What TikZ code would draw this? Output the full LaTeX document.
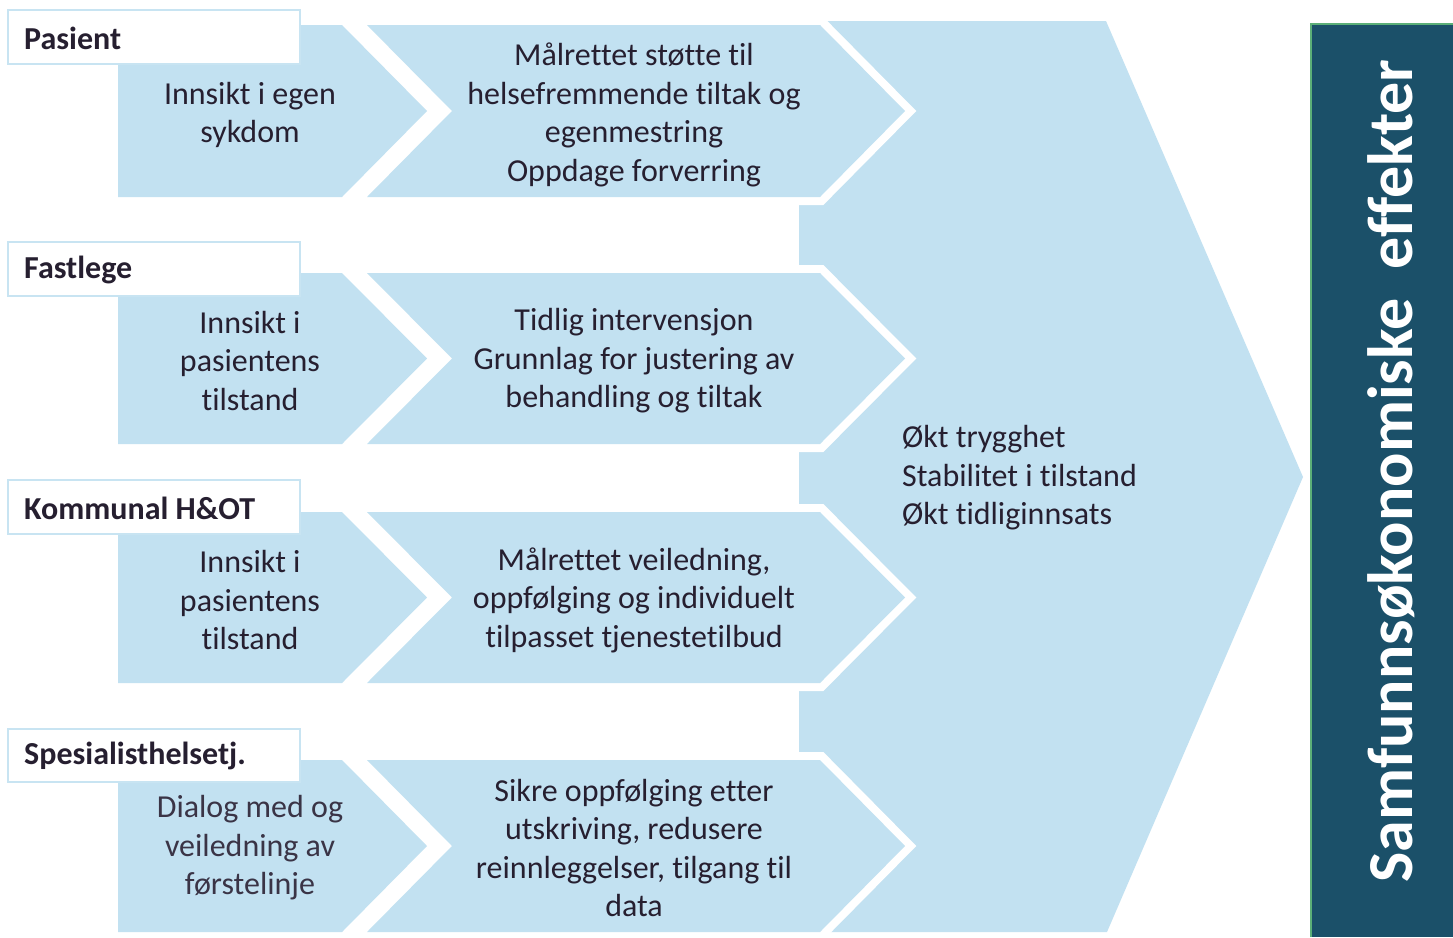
\documentclass[tikz,border=0pt]{standalone}
\usepackage{fontspec}
\setmainfont{Carlito}[Ligatures={NoCommon}]
\definecolor{lblue}{HTML}{C2E1F1}
\definecolor{lborder}{HTML}{C8E4F2}
\definecolor{darkbar}{HTML}{1B5069}
\definecolor{greenline}{HTML}{5CAF78}
\definecolor{txt}{HTML}{261F30}
\definecolor{txtgrey}{HTML}{3A3446}
\tikzset{
  bodytext/.style={align=center, text=txt, font=\fontsize{32}{38.5}\selectfont, inner sep=0pt},
  labelbox/.style={draw=lborder, line width=2pt, fill=white},
  labeltext/.style={anchor=west, text=txt, font=\fontsize{32}{36}\selectfont\bfseries, inner sep=0pt},
  whiteedge/.style={draw=white, line width=16pt, line join=miter},
}
\begin{document}
\begin{tikzpicture}[x=1pt,y=-1pt]
\useasboundingbox (0,0) rectangle (1453,937);
\fill[white] (0,0) rectangle (1453,937);

% big arrow
\fill[lblue] (799,21) -- (1106,21) -- (1303,477) -- (1107,932) -- (799,932) -- cycle;

% rows: top, bottom
\foreach \T/\B in {25/197, 273/444, 512/683, 760/932}{
  \pgfmathsetmacro{\M}{(\T+\B)/2}
  % column 1 pentagon
  \fill[lblue] (118,\T) -- (342,\T) -- (427,\M) -- (342,\B) -- (118,\B) -- cycle;
  % column 2 chevron with white edge
  \path[whiteedge] (367,\T) -- (820,\T) -- (905,\M) -- (820,\B) -- (367,\B) -- (452,\M) -- cycle;
  \fill[lblue] (367,\T) -- (820,\T) -- (905,\M) -- (820,\B) -- (367,\B) -- (452,\M) -- cycle;
}

% label boxes
\draw[labelbox] (8,10) rectangle (300,64);
\draw[labelbox] (8,242) rectangle (300,296);
\draw[labelbox] (8,480) rectangle (300,534);
\draw[labelbox] (8,729) rectangle (300,782);
\node[labeltext] (lpas) at (24,38) {Pasient};
\node[labeltext] (lfast) at (24,270) {Fastlege};
\node[labeltext] (lkom) at (24,508) {Kommunal H\&OT};
\node[labeltext] (lspes) at (24,756) {Spesialisthelsetj.};

% column 1 texts
\node[bodytext] (a1) at (250,115) {Innsikt i egen\\sykdom};
\node[bodytext] (a2) at (250,361) {Innsikt i\\pasientens\\tilstand};
\node[bodytext] (a3) at (250,600) {Innsikt i\\pasientens\\tilstand};
\node[bodytext, text=txtgrey] (a4) at (250,848) {Dialog med og\\veiledning av\\førstelinje};

% column 2 texts
\node[bodytext] (b1) at (634,115) {Målrettet støtte til\\helsefremmende tiltak og\\egenmestring\\Oppdage forverring};
\node[bodytext] (b2) at (634,361) {Tidlig intervensjon\\Grunnlag for justering av\\behandling og tiltak};
\node[bodytext] (b3) at (634,600) {Målrettet veiledning,\\oppfølging og individuelt\\tilpasset tjenestetilbud};
\node[bodytext] (b4) at (634,848) {Sikre oppfølging etter\\utskriving, redusere\\reinnleggelser, tilgang til\\data};

% big arrow text
\node[bodytext, align=left, anchor=west] (c) at (902,478) {Økt trygghet\\Stabilitet i tilstand\\Økt tidliginnsats};

% right bar
\fill[darkbar] (1311,24) rectangle (1453,937);
\draw[greenline, line width=2pt] (1311,937) -- (1311,24) -- (1453,24);
\node[rotate=90, anchor=base, text=white, font=\fontsize{64}{74}\selectfont\bfseries, inner sep=0pt] (title) at (1412,471) {Samfunnsøkonomiske\ \ effekter};
\end{tikzpicture}
\end{document}
